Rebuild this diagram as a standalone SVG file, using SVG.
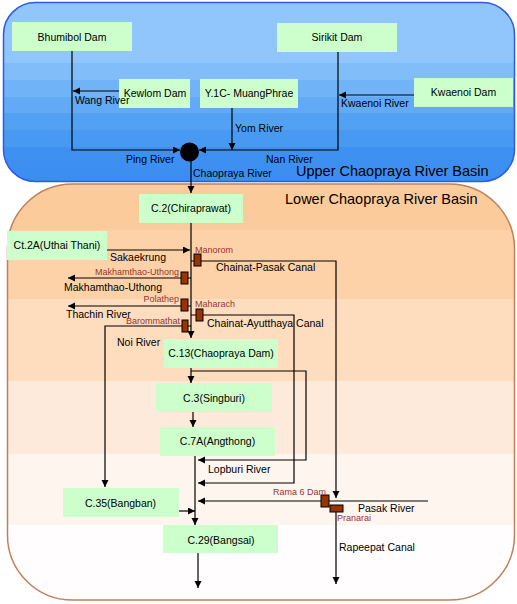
<svg xmlns="http://www.w3.org/2000/svg" width="517" height="604" viewBox="0 0 517 604">
<defs>
<linearGradient id="gUp" gradientUnits="userSpaceOnUse" x1="0" y1="2" x2="0" y2="182">
<stop offset="0" stop-color="#90c6fc"/><stop offset="0.339" stop-color="#90c6fc"/>
<stop offset="0.339" stop-color="#81bdf9"/><stop offset="0.433" stop-color="#81bdf9"/>
<stop offset="0.433" stop-color="#71b3f7"/><stop offset="0.528" stop-color="#71b3f7"/>
<stop offset="0.528" stop-color="#62aaf5"/><stop offset="0.617" stop-color="#62aaf5"/>
<stop offset="0.617" stop-color="#53a1f3"/><stop offset="0.711" stop-color="#53a1f3"/>
<stop offset="0.711" stop-color="#4799f2"/><stop offset="0.806" stop-color="#4799f2"/>
<stop offset="0.806" stop-color="#3e91f0"/><stop offset="1" stop-color="#3b8ef0"/>
</linearGradient>
<linearGradient id="gLow" gradientUnits="userSpaceOnUse" x1="0" y1="184" x2="0" y2="600">
<stop offset="0" stop-color="#fccb9b"/><stop offset="0.111" stop-color="#fccb9b"/>
<stop offset="0.111" stop-color="#fdd2a8"/><stop offset="0.276" stop-color="#fdd2a8"/>
<stop offset="0.276" stop-color="#fedcbe"/><stop offset="0.474" stop-color="#fedcbe"/>
<stop offset="0.474" stop-color="#feeadb"/><stop offset="0.649" stop-color="#feeadb"/>
<stop offset="0.649" stop-color="#fef5ef"/><stop offset="0.820" stop-color="#fef5ef"/>
<stop offset="0.820" stop-color="#fffdfd"/><stop offset="1" stop-color="#fffdfd"/>
</linearGradient>
<marker id="arr" markerUnits="userSpaceOnUse" markerWidth="8" markerHeight="8" refX="7" refY="3.5" orient="auto">
<path d="M0,0 L7,3.5 L0,7 z" fill="#000"/>
</marker>
<style>
.node rect{fill:#ccffcc}
.node text{font-family:"Liberation Sans",Arial,sans-serif;font-size:10.5px;fill:#000;text-anchor:middle}
.lbl{font-family:"Liberation Sans",Arial,sans-serif;font-size:10.5px;fill:#000}
.title{font-family:"Liberation Sans",Arial,sans-serif;font-size:14.5px;fill:#000}
.gl{font-family:"Liberation Sans",Arial,sans-serif;font-size:9px;fill:#993333}
.gate rect{fill:#993300;stroke:#000;stroke-width:1}
#connectors path{fill:none;stroke:#000;stroke-width:1.2}
.ar{marker-end:url(#arr)}
</style>
</defs>

<g id="lower-basin">
<rect x="7.5" y="184" width="507" height="416" rx="65" ry="65" fill="url(#gLow)" stroke="#c0805c" stroke-width="1.5"/>
<text class="title" x="285" y="203.5">Lower Chaopraya River Basin</text>
</g>
<g id="upper-basin">
<rect x="3.5" y="2.5" width="511" height="179" rx="32" ry="32" fill="url(#gUp)" stroke="#2a5ce6" stroke-width="1.5"/>
<text class="title" x="296" y="175.5">Upper Chaopraya River Basin</text>
</g>

<g id="connectors">
<path class="ar" d="M72,51 V150 H180"/>
<path class="ar" d="M119,91 H73"/>
<path class="ar" d="M232,108 V150"/>
<path class="ar" d="M338,52 V150 H199"/>
<path class="ar" d="M414,95 H339"/>
<path class="ar" d="M191,161 V193"/>
<path class="ar" d="M107,250 H190"/>
<path class="ar" d="M191,223 V338"/>
<path class="ar" d="M191,261 H336 V498"/>
<path class="ar" d="M336,505 V584"/>
<path class="ar" d="M191,278 H68"/>
<path class="ar" d="M191,306 H68"/>
<path class="ar" d="M191,315 H294 V483 H198"/>
<path class="ar" d="M191,326 H105 V487"/>
<path class="ar" d="M191,368 V383"/>
<path class="ar" d="M191,371 H306 V460 H198"/>
<path class="ar" d="M193,412 V427"/>
<path class="ar" d="M195,456 V525"/>
<path class="ar" d="M428,501 H198"/>
<path class="ar" d="M179,511 H195"/>
<path class="ar" d="M198,553 V588"/>
</g>

<g id="junction"><circle cx="189.5" cy="152" r="9.5" fill="#000"/></g>

<g id="bhumibol" class="node"><rect x="12" y="22" width="120" height="29"/><text x="72" y="40.5">Bhumibol Dam</text></g>
<g id="sirikit" class="node"><rect x="277" y="23" width="120" height="29"/><text x="337" y="41">Sirikit Dam</text></g>
<g id="kewlom" class="node"><rect x="119" y="79" width="71" height="29"/><text x="155" y="97">Kewlom Dam</text></g>
<g id="y1c" class="node"><rect x="200" y="79" width="98" height="29"/><text x="249" y="97">Y.1C- MuangPhrae</text></g>
<g id="kwaenoi" class="node"><rect x="414" y="78" width="99" height="29"/><text x="463.5" y="96">Kwaenoi Dam</text></g>
<g id="c2" class="node"><rect x="139" y="194" width="104" height="29"/><text x="191" y="212">C.2(Chiraprawat)</text></g>
<g id="ct2a" class="node"><rect x="7" y="231" width="100" height="29"/><text x="57" y="249">Ct.2A(Uthai Thani)</text></g>
<g id="c13" class="node"><rect x="164" y="339" width="114" height="29"/><text x="221" y="357">C.13(Chaopraya Dam)</text></g>
<g id="c3" class="node"><rect x="156" y="383" width="116" height="29"/><text x="214" y="402">C.3(Singburi)</text></g>
<g id="c7a" class="node"><rect x="160" y="427" width="115" height="29"/><text x="217.5" y="445">C.7A(Angthong)</text></g>
<g id="c35" class="node"><rect x="63" y="488" width="116" height="29"/><text x="120.5" y="507">C.35(Bangban)</text></g>
<g id="c29" class="node"><rect x="163" y="525" width="115" height="28"/><text x="221" y="544">C.29(Bangsai)</text></g>

<g id="manorom" class="gate"><rect x="194" y="254" width="7" height="12"/><text class="gl" x="195" y="252.5">Manorom</text></g>
<g id="makhamthao" class="gate"><rect x="181" y="272" width="7" height="12"/><text class="gl" x="179" y="275" text-anchor="end">Makhamthao-Uthong</text></g>
<g id="polathep" class="gate"><rect x="181" y="299" width="7" height="12"/><text class="gl" x="179" y="301.5" text-anchor="end">Polathep</text></g>
<g id="maharach" class="gate"><rect x="196" y="309" width="7" height="12"/><text class="gl" x="195" y="307">Maharach</text></g>
<g id="barommathat" class="gate"><rect x="182" y="320" width="6" height="12"/><text class="gl" x="180" y="324" text-anchor="end">Barommathat</text></g>
<g id="rama6" class="gate"><rect x="321" y="495" width="8" height="12"/><text class="gl" x="273" y="495">Rama 6 Dam</text></g>
<g id="pranarai" class="gate"><rect x="330" y="505" width="13" height="7"/><text class="gl" x="337" y="521">Pranarai</text></g>

<g id="connector-labels">
<text class="lbl" x="75" y="104">Wang River</text>
<text class="lbl" x="235" y="132">Yom River</text>
<text class="lbl" x="341" y="107">Kwaenoi River</text>
<text class="lbl" x="126" y="162.5">Ping River</text>
<text class="lbl" x="266" y="162.5">Nan River</text>
<text class="lbl" x="193" y="177">Chaopraya River</text>
<text class="lbl" x="110" y="261">Sakaekrung</text>
<text class="lbl" x="216" y="271">Chainat-Pasak Canal</text>
<text class="lbl" x="64" y="291">Makhamthao-Uthong</text>
<text class="lbl" x="66" y="318">Thachin River</text>
<text class="lbl" x="207" y="327">Chainat-Ayutthaya Canal</text>
<text class="lbl" x="117" y="346">Noi River</text>
<text class="lbl" x="208" y="473">Lopburi River</text>
<text class="lbl" x="358" y="511.5">Pasak River</text>
<text class="lbl" x="339" y="551">Rapeepat Canal</text>
</g>
</svg>
